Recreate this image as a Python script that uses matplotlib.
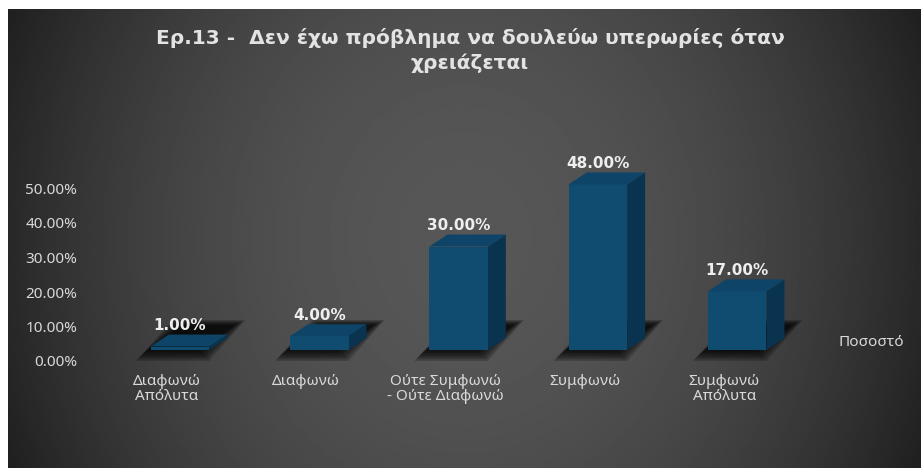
import numpy as np
import matplotlib.pyplot as plt
from matplotlib.patches import Polygon
from matplotlib.transforms import ScaledTranslation

plt.rcParams['font.family'] = ['Noto Sans', 'DejaVu Sans']

# data
categories = ['Διαφωνώ\nΑπόλυτα', 'Διαφωνώ', 'Ούτε Συμφωνώ\n- Ούτε Διαφωνώ',
              'Συμφωνώ', 'Συμφωνώ\nΑπόλυτα']
values = [1.0, 4.0, 30.0, 48.0, 17.0]
yticks = [0, 10, 20, 30, 40, 50]
series_name = 'Ποσοστό'
title = 'Ερ.13 -  Δεν έχω πρόβλημα να δουλεύω υπερωρίες όταν\nχρειάζεται'

W, H = 923, 468
fig = plt.figure(figsize=(W / 100, H / 100), dpi=100, facecolor='white')

# dark panel with a soft light centre
bg = fig.add_axes([8 / W, 0, (921 - 8) / W, (H - 9) / H])
gx, gy = np.meshgrid(np.linspace(-1, 1, 400), np.linspace(-1, 1, 200))
shade = 0.34 - 0.18 * gx ** 2 - 0.035 * gy ** 2
bg.imshow(shade, cmap='gray', vmin=0, vmax=1, aspect='auto',
          extent=[0, 1, 0, 1], interpolation='bilinear')
bg.axis('off')

# plot area: pixel scale of one category step and of one percent
step_px = 139.3
pct_px = 3.45
x0_px = 180          # first category centre
base_px = 118        # floor line, from the bottom
left_px, right_px, top_px = 84, 921, 459

ax = fig.add_axes([left_px / W, base_px / H, (right_px - left_px) / W,
                   (top_px - base_px) / H])
ax.set_xlim((left_px - x0_px) / step_px, (right_px - x0_px) / step_px)
ax.set_ylim(0, (top_px - base_px) / pct_px)
ax.patch.set_alpha(0)
for s in ax.spines.values():
    s.set_visible(False)

bw = 0.42                 # front face width
dx = 18 / step_px         # depth offset
dy = 12 / pct_px

front_c = '#104b70'
top_c = '#0e4467'
side_c = '#0a3350'

bold = dict(family=['DejaVu Sans'], fontweight='bold')

for i, v in enumerate(values):
    xl, xr = i - bw / 2, i + bw / 2
    # blurred floor shadow
    for k in range(8):
        g = k * 1.6
        sh = [(xl - (15 - g) / step_px, -(11 - g) / pct_px),
              (xr - (0 + g) / step_px, -(11 - g) / pct_px),
              (xr + (36 - g) / step_px, (30 - g * 0.5) / pct_px),
              (xl + (22 + g) / step_px, (30 - g * 0.5) / pct_px)]
        ax.add_patch(Polygon(sh, closed=True, facecolor='black', edgecolor='none',
                             alpha=0.18, clip_on=False, zorder=1))
    front = [(xl, 0), (xr, 0), (xr, v), (xl, v)]
    side = [(xr, 0), (xr + dx, dy), (xr + dx, v + dy), (xr, v)]
    top = [(xl, v), (xr, v), (xr + dx, v + dy), (xl + dx, v + dy)]
    ax.add_patch(Polygon(side, closed=True, facecolor=side_c, edgecolor='none', zorder=2))
    ax.add_patch(Polygon(front, closed=True, facecolor=front_c, edgecolor='none', zorder=3))
    ax.add_patch(Polygon(top, closed=True, facecolor=top_c, edgecolor='none', zorder=3))
    ax.text(i, v + dy + 1.5 / pct_px, f'{v:.2f}%', ha='center', va='bottom',
            fontsize=11, color='#eeeeee', zorder=4, **bold)

# axis labels
ax.set_yticks(yticks)
ax.set_yticklabels([f'{t:.2f}%' for t in yticks])
ax.tick_params(axis='y', length=0, pad=5, labelsize=11, labelcolor='#d9d9d9')
down = ScaledTranslation(0, -11 / 100, fig.dpi_scale_trans)
for lab in ax.get_yticklabels():
    lab.set_transform(lab.get_transform() + down)

ax.set_xticks(range(len(categories)))
ax.set_xticklabels(categories)
ax.tick_params(axis='x', length=0, pad=17, labelsize=11, labelcolor='#d9d9d9')
shift = ScaledTranslation(-13 / 100, 0, fig.dpi_scale_trans)
for lab in ax.get_xticklabels():
    lab.set_transform(lab.get_transform() + shift)
    lab.set_linespacing(1.05)

fig.text(838 / W, 1 - 342 / H, series_name, ha='left', va='center',
         fontsize=11, color='#d9d9d9')

fig.text(470 / W, 1 - 28 / H, title, ha='center', va='top', fontsize=14.5,
         color='#e3e3e3', linespacing=1.35, **bold)

fig.savefig('out.png', dpi=100, facecolor=fig.get_facecolor())
